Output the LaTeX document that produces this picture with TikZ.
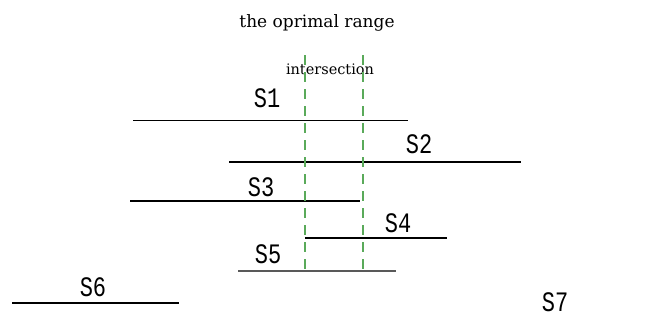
\documentclass[tikz,border=0pt]{standalone}
\usepackage{fontspec}
\usepackage{graphicx}
\setmainfont{DejaVu Serif}
\newfontfamily\labfont{Liberation Mono}
\newcommand{\tall}[1]{\scalebox{1}[1.28]{#1}}
\begin{document}
\begin{tikzpicture}[x=1pt,y=-1pt,
  seglab/.style={anchor=base,inner sep=0pt,font=\labfont\fontsize{22}{22}\selectfont},
  seg/.style={line width=2pt,black},
  thinseg/.style={line width=1pt,black},
  grayseg/.style={line width=2pt,black!65},
  guide/.style={line width=1.5pt,draw={rgb,255:red,90;green,170;blue,90},dash pattern=on 10pt off 7pt}]
\useasboundingbox (0,0) rectangle (655,322);
\fill[white] (0,0) rectangle (655,322);
% titles
\node[anchor=base,inner sep=0pt,font=\fontsize{17}{17}\selectfont] (title) at (317,27) {the oprimal range};
\node[anchor=base,inner sep=0pt,font=\fontsize{14.5}{14.5}\selectfont] (inter) at (330,74) {intersection};
% segment ends
\coordinate (s1a) at (133,120); \coordinate (s1b) at (408,120);
\coordinate (s2a) at (229,162); \coordinate (s2b) at (521,162);
\coordinate (s3a) at (130,201); \coordinate (s3b) at (360,201);
\coordinate (s4a) at (305,238); \coordinate (s4b) at (447,238);
\coordinate (s5a) at (238,271); \coordinate (s5b) at (396,271);
\coordinate (s6a) at (12,303);  \coordinate (s6b) at (179,303);
\coordinate (g1a) at (305,55); \coordinate (g1b) at (305,272);
\coordinate (g2a) at (363,55); \coordinate (g2b) at (363,272);
% segments
\draw[thinseg] (s1a) -- (s1b);
\draw[seg] (s2a) -- (s2b);
\draw[seg] (s3a) -- (s3b);
\draw[seg] (s4a) -- (s4b);
\draw[grayseg] (s5a) -- (s5b);
\draw[seg] (s6a) -- (s6b);
% guides
\draw[guide] (g1a) -- (g1b);
\draw[guide] (g2a) -- (g2b);
% labels
\node[seglab] (S1) at (267,107) {\tall{S1}};
\node[seglab] (S2) at (419,153) {\tall{S2}};
\node[seglab] (S3) at (261,196) {\tall{S3}};
\node[seglab] (S4) at (398,232) {\tall{S4}};
\node[seglab] (S5) at (268,263) {\tall{S5}};
\node[seglab] (S6) at (93,296) {\tall{S6}};
\node[seglab] (S7) at (555,311) {\tall{S7}};
\end{tikzpicture}
\end{document}
